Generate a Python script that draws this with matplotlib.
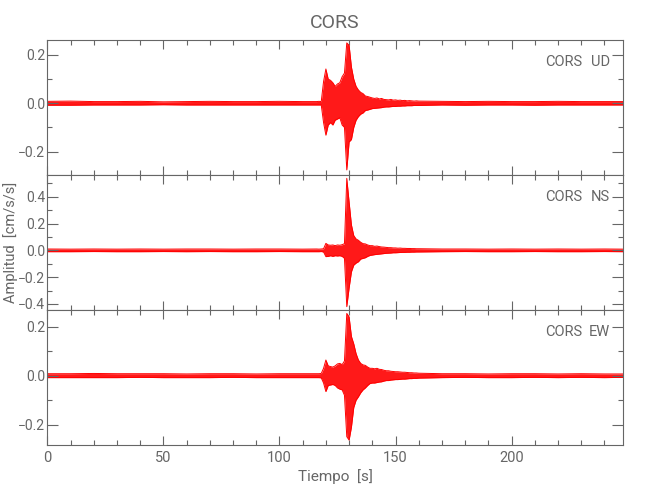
import numpy as np
import matplotlib
matplotlib.use('Agg')
from matplotlib import pyplot as plt
from matplotlib.ticker import MultipleLocator, FuncFormatter

# tiempo de las muestras de envolvente (s)
tiempo = [0, 10, 20, 30, 40, 50, 60, 70, 80, 90, 100, 110] + list(range(116, 161)) + \
	[170, 180, 190, 200, 210, 220, 230, 240, 248]

ud_sup = [0.008, 0.009, 0.007, 0.007, 0.008, 0.006, 0.007, 0.008, 0.007, 0.007, 0.008, 0.007,
	0.007, 0.008, 0.007, 0.090, 0.142, 0.100, 0.095, 0.085, 0.070, 0.080, 0.085, 0.110, 0.125,
	0.250, 0.240, 0.150, 0.100, 0.070, 0.055, 0.045, 0.040, 0.030, 0.028, 0.025, 0.022, 0.020,
	0.022, 0.018, 0.020, 0.016, 0.015, 0.014, 0.016, 0.013, 0.014, 0.012, 0.013, 0.011, 0.012,
	0.010, 0.011, 0.010, 0.009, 0.010, 0.009,
	0.008, 0.007, 0.008, 0.007, 0.007, 0.008, 0.007, 0.007, 0.007]
ud_inf = [-0.008, -0.008, -0.007, -0.007, -0.007, -0.006, -0.007, -0.007, -0.007, -0.007, -0.007, -0.007,
	-0.007, -0.007, -0.007, -0.080, -0.132, -0.090, -0.080, -0.090, -0.070, -0.065, -0.060, -0.090, -0.100,
	-0.276, -0.160, -0.150, -0.100, -0.070, -0.055, -0.045, -0.040, -0.030, -0.028, -0.025, -0.022, -0.021,
	-0.020, -0.019, -0.018, -0.016, -0.015, -0.015, -0.014, -0.013, -0.013, -0.012, -0.012, -0.011, -0.011,
	-0.010, -0.010, -0.010, -0.009, -0.009, -0.009,
	-0.007, -0.008, -0.007, -0.007, -0.008, -0.007, -0.007, -0.007, -0.007]

ns_sup = [0.010, 0.009, 0.010, 0.009, 0.010, 0.009, 0.010, 0.010, 0.009, 0.010, 0.010, 0.009,
	0.010, 0.009, 0.010, 0.012, 0.052, 0.040, 0.038, 0.040, 0.035, 0.040, 0.038, 0.042, 0.050,
	0.537, 0.360, 0.190, 0.110, 0.085, 0.075, 0.060, 0.050, 0.048, 0.040, 0.035, 0.035, 0.030,
	0.032, 0.028, 0.025, 0.024, 0.022, 0.020, 0.020, 0.018, 0.018, 0.016, 0.017, 0.015, 0.015,
	0.014, 0.014, 0.013, 0.013, 0.012, 0.012,
	0.010, 0.010, 0.009, 0.010, 0.009, 0.010, 0.009, 0.010, 0.009]
ns_inf = [-0.010, -0.010, -0.009, -0.010, -0.010, -0.009, -0.010, -0.009, -0.010, -0.010, -0.009, -0.010,
	-0.010, -0.010, -0.009, -0.012, -0.047, -0.045, -0.040, -0.045, -0.040, -0.042, -0.040, -0.045, -0.060,
	-0.420, -0.280, -0.160, -0.110, -0.095, -0.085, -0.065, -0.060, -0.055, -0.045, -0.038, -0.035, -0.032,
	-0.030, -0.028, -0.026, -0.024, -0.022, -0.021, -0.020, -0.018, -0.018, -0.017, -0.016, -0.015, -0.015,
	-0.014, -0.014, -0.013, -0.013, -0.012, -0.012,
	-0.010, -0.009, -0.010, -0.010, -0.009, -0.010, -0.010, -0.009, -0.010]

ew_sup = [0.008, 0.008, 0.009, 0.008, 0.008, 0.008, 0.007, 0.008, 0.008, 0.007, 0.008, 0.008,
	0.008, 0.008, 0.009, 0.030, 0.064, 0.040, 0.037, 0.035, 0.040, 0.048, 0.050, 0.045, 0.060,
	0.254, 0.240, 0.160, 0.130, 0.090, 0.064, 0.050, 0.044, 0.042, 0.035, 0.030, 0.030, 0.028,
	0.030, 0.026, 0.025, 0.022, 0.020, 0.020, 0.018, 0.017, 0.016, 0.016, 0.015, 0.014, 0.014,
	0.013, 0.012, 0.012, 0.011, 0.011, 0.010,
	0.008, 0.008, 0.007, 0.008, 0.008, 0.007, 0.008, 0.007, 0.007]
ew_inf = [-0.008, -0.008, -0.008, -0.008, -0.007, -0.008, -0.008, -0.008, -0.007, -0.008, -0.008, -0.008,
	-0.008, -0.008, -0.009, -0.030, -0.065, -0.040, -0.038, -0.036, -0.040, -0.050, -0.055, -0.058, -0.080,
	-0.249, -0.263, -0.210, -0.130, -0.100, -0.086, -0.070, -0.058, -0.050, -0.040, -0.032, -0.030, -0.030,
	-0.028, -0.026, -0.025, -0.022, -0.020, -0.020, -0.018, -0.017, -0.016, -0.016, -0.015, -0.014, -0.014,
	-0.013, -0.012, -0.012, -0.011, -0.011, -0.010,
	-0.008, -0.007, -0.008, -0.008, -0.007, -0.008, -0.007, -0.008, -0.007]

estacion = 'CORS'
componentes = ['UD', 'NS', 'EW']
limites_y = [(-0.297, 0.262), (-0.445, 0.562), (-0.283, 0.268)]

gris = '#666666'
plt.rcParams['font.family'] = ['Roboto', 'DejaVu Sans']

fig = plt.figure(figsize=(6.5, 5), dpi=100)
izq, ancho, alto = 0.0728, 0.8857, 0.27
bases = [0.65, 0.38, 0.11]

t = np.array(tiempo)
series = [(ud_sup, ud_inf), (ns_sup, ns_inf), (ew_sup, ew_inf)]

def fmt_y(v, pos):
	s = '%.1f' % v
	if s == '-0.0':
		s = '0.0'
	return s.replace('-', '\u2212')

for i in range(3):
	ax = fig.add_axes([izq, bases[i], ancho, alto])
	sup = np.array(series[i][0])
	inf = np.array(series[i][1])
	ax.fill_between(t, inf, sup, color='red', lw=0, alpha=0.9)
	ax.plot(t, sup, color='red', lw=0.7)
	ax.plot(t, inf, color='red', lw=0.7)
	ax.set_xlim(0, 248)
	ax.set_ylim(limites_y[i])
	ax.xaxis.set_major_locator(MultipleLocator(50))
	ax.xaxis.set_minor_locator(MultipleLocator(10))
	ax.yaxis.set_major_locator(MultipleLocator(0.2))
	ax.yaxis.set_minor_locator(MultipleLocator(0.1))
	ax.yaxis.set_major_formatter(FuncFormatter(fmt_y))
	ax.tick_params(which='both', direction='in', top=True, right=True, colors=gris,
		labelcolor=gris, labelsize=10, width=0.8, pad=1.5)
	ax.tick_params(axis='x', which='major', length=6.5, pad=4, labelsize=10.5)
	ax.tick_params(axis='x', which='minor', length=3.6)
	ax.tick_params(axis='y', which='major', length=8)
	ax.tick_params(axis='y', which='minor', length=3.6)
	for s in ax.spines.values():
		s.set_color(gris)
		s.set_linewidth(0.8)
	if i < 2:
		ax.tick_params(axis='x', labelbottom=False)
	else:
		ax.set_xlabel('Tiempo  [s]', color=gris, fontsize=11, labelpad=3)
	ax.text(0.93, 0.84, estacion, transform=ax.transAxes, ha='right', va='center',
		color=gris, fontsize=10.5)
	ax.text(0.977, 0.84, componentes[i], transform=ax.transAxes, ha='right', va='center',
		color=gris, fontsize=10.5)
	if i == 0:
		ax.set_title(estacion, color=gris, fontsize=14, pad=9)

fig.text(11 / 650, 1 - 242 / 500, 'Amplitud  [cm/s/s]', rotation=90, ha='center', va='center',
	color=gris, fontsize=10.5)

fig.savefig('out.png', dpi=100)
